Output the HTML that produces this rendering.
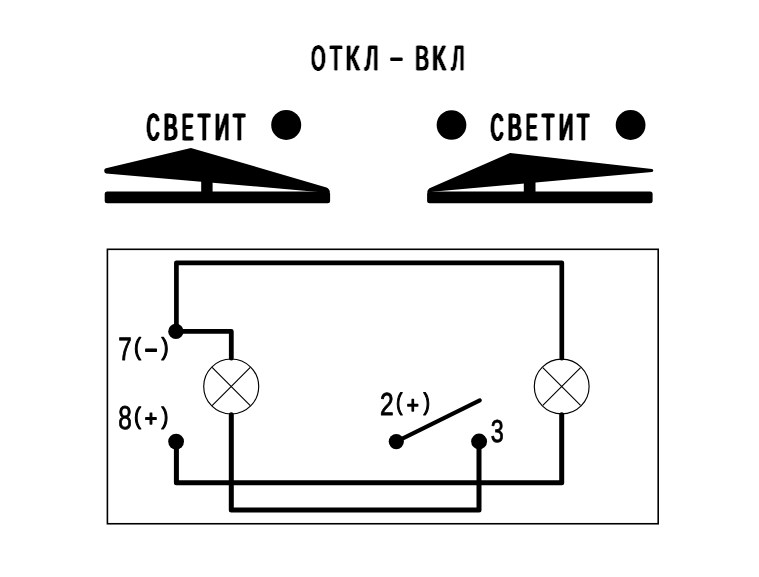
<!DOCTYPE html>
<html lang="ru">
<head>
<meta charset="utf-8">
<title>ОТКЛ - ВКЛ</title>
<style>
html,body{margin:0;padding:0;background:#fff;}
body{width:759px;height:577px;overflow:hidden;}
svg{display:block;will-change:transform;}
text{font-family:"Liberation Sans",sans-serif;fill:#000;text-rendering:geometricPrecision;}
.w{fill:none;stroke:#000;stroke-width:5;stroke-linejoin:round;stroke-linecap:round;}
.t{fill:none;stroke:#000;stroke-width:1.15;}
</style>
</head>
<body>
<svg width="759" height="577" viewBox="0 0 759 577" font-weight="bold">
<defs>
<filter id="fb" x="-5%" y="-5%" width="110%" height="110%" color-interpolation-filters="sRGB"><feConvolveMatrix order="3 1" kernelMatrix="0.7 1 0.7" divisor="1" preserveAlpha="false"/></filter>
<filter id="fc" x="-5%" y="-5%" width="110%" height="110%" color-interpolation-filters="sRGB"><feConvolveMatrix order="3 1" kernelMatrix="0.45 1 0.45" divisor="1" preserveAlpha="false"/></filter>
</defs>
<rect width="759" height="577" fill="#fff"/>

<!-- title -->
<g aria-label="ОТКЛ" filter="url(#fc)"><text font-weight="normal" stroke="#000" stroke-width="0.6" stroke-linejoin="round" transform="scale(0.6,1)"><tspan x="518.74" y="70" font-size="34.8" textLength="23.52" lengthAdjust="spacingAndGlyphs">О</tspan><tspan x="549.45" y="70" font-size="34.88" textLength="20.62" lengthAdjust="spacingAndGlyphs">Т</tspan><tspan x="576.19" y="70" font-size="34.88" textLength="22.95" lengthAdjust="spacingAndGlyphs">К</tspan><tspan x="608.08" y="70" font-size="34.88" textLength="23.07" lengthAdjust="spacingAndGlyphs">Л</tspan></text></g>
<g aria-label="-"><text font-weight="normal" stroke="#000" stroke-width="1.4" stroke-linejoin="round" transform="scale(1,1)"><tspan x="389.6" y="66" font-size="25.22" textLength="13.89" lengthAdjust="spacingAndGlyphs">-</tspan></text></g>
<g aria-label="ВКЛ" filter="url(#fc)"><text font-weight="normal" stroke="#000" stroke-width="0.6" stroke-linejoin="round" transform="scale(0.6,1)"><tspan x="692.04" y="70" font-size="34.88" textLength="23.07" lengthAdjust="spacingAndGlyphs">В</tspan><tspan x="719.83" y="70" font-size="34.88" textLength="23.14" lengthAdjust="spacingAndGlyphs">К</tspan><tspan x="752.58" y="70" font-size="34.88" textLength="21.76" lengthAdjust="spacingAndGlyphs">Л</tspan></text></g>

<!-- rocker labels -->
<g aria-label="СВЕТИТ" filter="url(#fb)"><text font-weight="normal" stroke="#000" stroke-width="0.6" stroke-linejoin="round" transform="scale(0.6,1)"><tspan x="244.59" y="140" font-size="37.59" textLength="20.95" lengthAdjust="spacingAndGlyphs">С</tspan><tspan x="272.91" y="140" font-size="37.72" textLength="23.32" lengthAdjust="spacingAndGlyphs">В</tspan><tspan x="303.42" y="140" font-size="37.72" textLength="18.73" lengthAdjust="spacingAndGlyphs">Е</tspan><tspan x="330.18" y="140" font-size="37.72" textLength="20.49" lengthAdjust="spacingAndGlyphs">Т</tspan><tspan x="358.37" y="140" font-size="37.72" textLength="23.93" lengthAdjust="spacingAndGlyphs">И</tspan><tspan x="388.69" y="140" font-size="37.72" textLength="19.96" lengthAdjust="spacingAndGlyphs">Т</tspan></text></g>
<g aria-label="СВЕТИТ" filter="url(#fb)"><text font-weight="normal" stroke="#000" stroke-width="0.6" stroke-linejoin="round" transform="scale(0.6,1)"><tspan x="817.93" y="140" font-size="37.59" textLength="20.95" lengthAdjust="spacingAndGlyphs">С</tspan><tspan x="846.24" y="140" font-size="37.72" textLength="23.32" lengthAdjust="spacingAndGlyphs">В</tspan><tspan x="876.75" y="140" font-size="37.72" textLength="18.73" lengthAdjust="spacingAndGlyphs">Е</tspan><tspan x="903.51" y="140" font-size="37.72" textLength="20.49" lengthAdjust="spacingAndGlyphs">Т</tspan><tspan x="931.7" y="140" font-size="37.72" textLength="23.93" lengthAdjust="spacingAndGlyphs">И</tspan><tspan x="962.03" y="140" font-size="37.72" textLength="19.96" lengthAdjust="spacingAndGlyphs">Т</tspan></text></g>

<!-- indicator dots -->
<circle cx="286.2" cy="124.95" r="15"/>
<circle cx="451.5" cy="125" r="14.85"/>
<circle cx="630.6" cy="125" r="14.9"/>

<!-- left rocker -->
<path d="M104.2 170.7 Q104.2 168.6 106 168.2 L190.9 147.9 L326.5 187.4 Q329.6 188.6 330 192.5 L318 191.9 L106 173.4 Q104.2 173 104.2 170.7 Z"/>
<rect x="201.2" y="178" width="11.4" height="15"/>
<rect x="104.7" y="191.5" width="225.4" height="11.8" rx="2.5"/>

<!-- right rocker -->
<path d="M653.3 170.6 Q653.3 169.2 652 169 L510.1 153 L429.5 188.2 Q427.5 189.6 427.1 192.5 L435 191.6 L652 172.1 Q653.3 172 653.3 170.6 Z"/>
<rect x="523.8" y="178" width="11.7" height="15"/>
<rect x="427.1" y="191.5" width="225.5" height="11.8" rx="2.5"/>

<!-- frame -->
<rect x="107.4" y="249.3" width="550.8" height="274.45" class="t" style="stroke-width:1.6"/>

<!-- wires -->
<path class="w" style="stroke-width:4.7" d="M176.4 331.4 V262.8 H561.8 V358.2"/>
<path class="w" style="stroke-width:4.8" d="M176.4 331.4 H231.3 V358.2"/>
<path class="w" style="stroke-width:5" d="M176.4 441.5 V482.7 H561.7 V414.8"/>
<path class="w" style="stroke-width:5" d="M231.3 414.8 V510 H479 V441.5"/>

<!-- lamps -->
<g class="t">
<circle cx="231.2" cy="386.5" r="27.5"/>
<path d="M212.1 367.4 L250.3 405.6 M250.3 367.4 L212.1 405.6"/>
<circle cx="561.7" cy="386.5" r="27.4"/>
<path d="M542.8 367.6 L580.6 405.4 M580.6 367.6 L542.8 405.4"/>
</g>

<!-- terminals -->
<circle cx="175.9" cy="331.4" r="7.7"/>
<circle cx="176.1" cy="441.6" r="7.9"/>
<circle cx="396.3" cy="441.6" r="7.6"/>
<circle cx="479.1" cy="441.5" r="7.95"/>

<!-- switch arm -->
<path d="M396.3 441.6 L479.8 400.3" fill="none" stroke="#000" stroke-width="4.1" stroke-linecap="round"/>

<!-- terminal labels -->
<g aria-label="7(-)"><text font-weight="normal" stroke="#000" stroke-width="0.9" stroke-linejoin="round" transform="scale(0.75,1)"><tspan x="157.73" y="360" font-size="32.34" textLength="17.98" lengthAdjust="spacingAndGlyphs">7</tspan><tspan x="178.56" y="355" font-size="24.26" textLength="9.31" lengthAdjust="spacingAndGlyphs" stroke-width="1.2">(</tspan><tspan x="191.8" y="359" font-size="33.13" textLength="19.48" lengthAdjust="spacingAndGlyphs">-</tspan><tspan x="215.2" y="355" font-size="24.26" textLength="9.46" lengthAdjust="spacingAndGlyphs" stroke-width="1.2">)</tspan></text></g>
<g aria-label="8(+)"><text font-weight="normal" stroke="#000" stroke-width="0.9" stroke-linejoin="round" transform="scale(0.75,1)"><tspan x="157.7" y="429" font-size="33.01" textLength="18.07" lengthAdjust="spacingAndGlyphs">8</tspan><tspan x="178.57" y="424" font-size="23.83" textLength="9.29" lengthAdjust="spacingAndGlyphs" stroke-width="1.2">(</tspan><tspan x="193.11" y="426" font-size="22.28" textLength="16.6" lengthAdjust="spacingAndGlyphs" stroke-width="1.4">+</tspan><tspan x="215.2" y="424" font-size="23.83" textLength="9.15" lengthAdjust="spacingAndGlyphs" stroke-width="1.2">)</tspan></text></g>
<g aria-label="2(+)"><text font-weight="normal" stroke="#000" stroke-width="0.9" stroke-linejoin="round" transform="scale(0.75,1)"><tspan x="506.81" y="415" font-size="31.87" textLength="18.24" lengthAdjust="spacingAndGlyphs">2</tspan><tspan x="528.11" y="410" font-size="24.15" textLength="8.6" lengthAdjust="spacingAndGlyphs" stroke-width="1.2">(</tspan><tspan x="542.41" y="413" font-size="23.5" textLength="16.13" lengthAdjust="spacingAndGlyphs" stroke-width="1.4">+</tspan><tspan x="564.5" y="410" font-size="24.15" textLength="8.74" lengthAdjust="spacingAndGlyphs" stroke-width="1.2">)</tspan></text></g>
<g aria-label="3"><text font-weight="normal" stroke="#000" stroke-width="0.9" stroke-linejoin="round" transform="scale(0.75,1)"><tspan x="654.32" y="442" font-size="31.72" textLength="17.27" lengthAdjust="spacingAndGlyphs">3</tspan></text></g>
</svg>
</body>
</html>
